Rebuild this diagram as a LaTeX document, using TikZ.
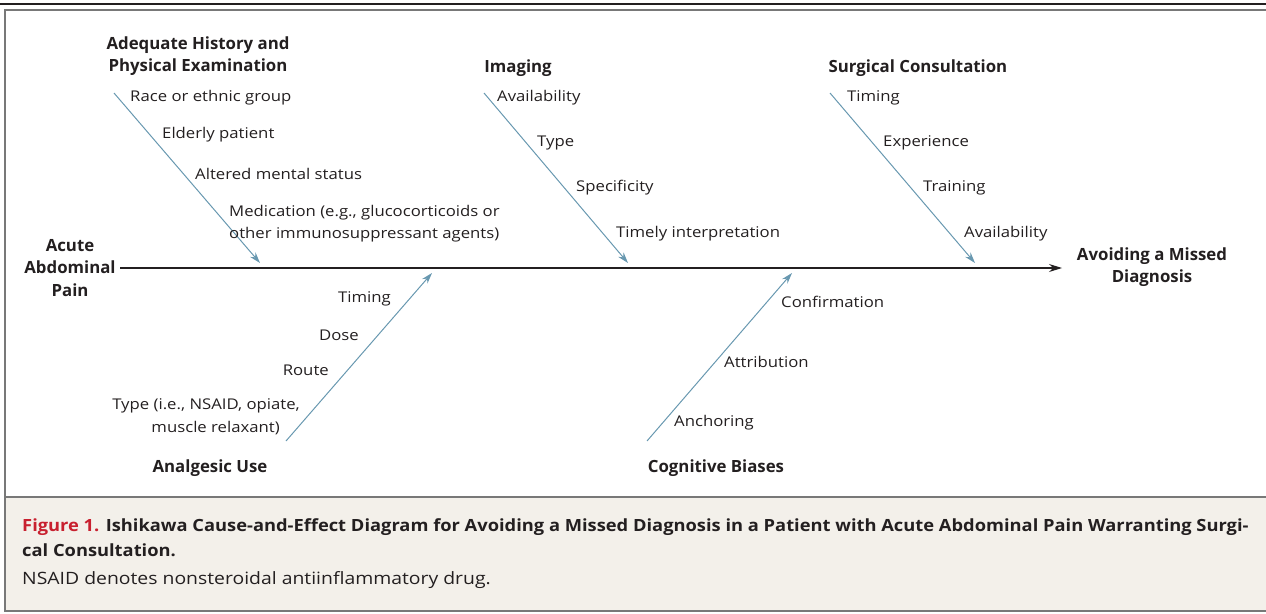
\documentclass[tikz,border=0pt]{standalone}
\usepackage{fontspec}
\setmainfont{Open Sans}
\newfontfamily\lblfont{Open Sans}[FakeStretch=1.13]
\newfontfamily\capbfont{Open Sans}[FakeStretch=1.09]
\newfontfamily\capnfont{Open Sans}[FakeStretch=1.14]
\usetikzlibrary{arrows.meta}
\definecolor{bone}{RGB}{104,152,176}
\definecolor{ink}{RGB}{35,31,32}
\definecolor{frame}{RGB}{120,120,120}
\definecolor{capbg}{RGB}{243,240,234}
\definecolor{figred}{RGB}{200,32,47}
\tikzset{
  lbl/.style={inner sep=0pt, text=ink, font=\lblfont\fontsize{14.8}{21.5}\selectfont},
  head/.style={inner sep=0pt, text=ink, align=center, font=\fontsize{16.8}{22.7}\selectfont\bfseries},
  bonearrow/.style={draw=bone, line width=1pt, -{Stealth[length=11pt,width=7pt]}},
  spine/.style={draw=ink, line width=1.3pt, -{Stealth[length=13pt,width=8pt]}},
  captext/.style={inner sep=0pt, text=ink, anchor=west}
}
\begin{document}
\begin{tikzpicture}[x=1pt,y=-1pt]
\useasboundingbox (0,0) rectangle (1266,613);
% frame
\draw[ink, line width=1.5pt] (0,4) -- (1266,4);
\fill[capbg] (5,497) rectangle (1266,611);
\draw[frame, line width=2pt] (1267,10) -- (5,10) -- (5,611) -- (1267,611);
\draw[frame, line width=2pt] (5,497) -- (1267,497);

% spine
\node[head] (src) at (70,268) {Acute\\Abdominal\\Pain};
\node[head] (eff) at (1152,267) {Avoiding a Missed\\Diagnosis};
\coordinate (s0) at (120,268);
\coordinate (s1) at (1062,268);
\draw[spine] (s0) -- (s1);

% bone 1: history
\node[head] (h1) at (198,56) {Adequate History and\\Physical Examination};
\coordinate (b1s) at (114,93);
\coordinate (b1e) at (260,263);
\draw[bonearrow] (b1s) -- (b1e);
\node[lbl, anchor=west] (l11) at (130,98) {Race or ethnic group};
\node[lbl, anchor=west] (l12) at (162,135) {Elderly patient};
\node[lbl, anchor=west] (l13) at (195,174) {Altered mental status};
\node[lbl, anchor=west] (l14) at (229,213) {Medication (e.g., glucocorticoids or};
\node[lbl, anchor=west] (l15) at (229,235) {other immunosuppressant agents)};

% bone 2: imaging
\node[head] (h2) at (518,68) {Imaging};
\coordinate (b2s) at (484,93);
\coordinate (b2e) at (628,263);
\draw[bonearrow] (b2s) -- (b2e);
\node[lbl, anchor=west] (l21) at (497,98) {Availability};
\node[lbl, anchor=west] (l22) at (537,143) {Type};
\node[lbl, anchor=west] (l23) at (576,188) {Specificity};
\node[lbl, anchor=west] (l24) at (616,234) {Timely interpretation};

% bone 3: surgical consultation
\node[head] (h3) at (918,68) {Surgical Consultation};
\coordinate (b3s) at (830,93);
\coordinate (b3e) at (975,263);
\draw[bonearrow] (b3s) -- (b3e);
\node[lbl, anchor=west] (l31) at (847,98) {Timing};
\node[lbl, anchor=west] (l32) at (883,143) {Experience};
\node[lbl, anchor=west] (l33) at (923,188) {Training};
\node[lbl, anchor=west] (l34) at (964,234) {Availability};

% bone 4: analgesic use
\node[head] (h4) at (210,468) {Analgesic Use};
\coordinate (b4s) at (286,441);
\coordinate (b4e) at (432,273);
\draw[bonearrow] (b4s) -- (b4e);
\node[lbl, anchor=east] (l41) at (391,299) {Timing};
\node[lbl, anchor=east] (l42) at (359,335) {Dose};
\node[lbl, anchor=east] (l43) at (329,370) {Route};
\node[lbl, anchor=east] (l44) at (300,406) {Type (i.e., NSAID, opiate,};
\node[lbl, anchor=east] (l45) at (280,428) {muscle relaxant)};

% bone 5: cognitive biases
\node[head] (h5) at (716,468) {Cognitive Biases};
\coordinate (b5s) at (647,441);
\coordinate (b5e) at (792,273);
\draw[bonearrow] (b5s) -- (b5e);
\node[lbl, anchor=west] (l51) at (781,302) {Confirmation};
\node[lbl, anchor=west] (l52) at (724,362) {Attribution};
\node[lbl, anchor=west] (l53) at (674,423) {Anchoring};

% caption
\node[captext, font=\capbfont\fontsize{16.8}{22}\selectfont\bfseries] (c1) at (22,527) {\textcolor{figred}{Figure 1.} Ishikawa Cause-and-Effect Diagram for Avoiding a Missed Diagnosis in a Patient with Acute Abdominal Pain Warranting Surgi-};
\node[captext, font=\capbfont\fontsize{16.8}{22}\selectfont\bfseries] (c2) at (22,550) {cal Consultation.};
\node[captext, font=\capnfont\fontsize{17}{22}\selectfont] (c3) at (22,580) {NSAID denotes nonsteroidal antiinflammatory drug.};
\end{tikzpicture}
\end{document}
